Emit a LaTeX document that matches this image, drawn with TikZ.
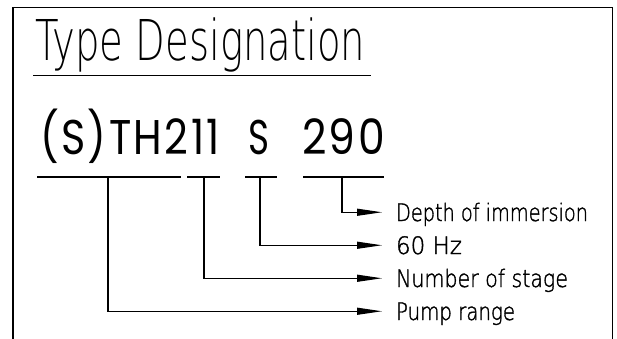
\documentclass[tikz,border=0pt]{standalone}
\usepackage{graphicx}
\usepackage{fontspec}
\usetikzlibrary{arrows.meta}
\IfFontExistsTF{DejaVu Sans ExtraLight}{\newfontfamily\labfont[FakeBold=1.6]{DejaVu Sans ExtraLight}\newfontfamily\titfont{DejaVu Sans ExtraLight}}{\newfontfamily\labfont{Fira Sans}\newfontfamily\titfont{Fira Sans}}
\newfontfamily\codefont[LetterSpace=6]{Poppins}
\newcommand\fitto[4]{\resizebox{#1}{#2}{#3\smash{#4}\rule{0pt}{\fontcharht\font`H}}}
\tikzset{
  txt/.style={inner sep=0pt, outer sep=0pt, anchor=south west},
  frame/.style={line width=1.5pt, line cap=rect},
  conn/.style={line width=1.1pt, -{Triangle[length=25pt,width=7pt]}},
  uline/.style={line width=1.1pt},
}
\begin{document}
\begin{tikzpicture}[x=1pt,y=-1pt]
\clip (0,0) rectangle (617,339);
\fill[white] (0,0) rectangle (617,339);
% frame
\draw[frame] (13,350) -- (13,7.5) -- (612.5,7.5) -- (612.5,350);
% title
\node[txt] (title) at (35,61) {\fitto{330pt}{41pt}{\titfont}{Type Designation}};
\coordinate (tl) at (33,75);
\coordinate (tr) at (371,75);
\draw[line width=0.9pt] (tl) -- (tr);
% code
\node[txt] (code1) at (40,154.3) {\fitto{180pt}{34pt}{\codefont}{(S)TH211}};
\node[txt] (code2) at (248,154.3) {\fitto{21pt}{34pt}{\codefont}{S}};
\node[txt] (code3) at (302,154.3) {\fitto{83pt}{34pt}{\codefont}{290}};
% underline segments
\coordinate (a1) at (37,177);  \coordinate (b1) at (181,177);
\coordinate (a2) at (187,177); \coordinate (b2) at (220,177);
\coordinate (a3) at (245,177); \coordinate (b3) at (277,177);
\coordinate (a4) at (303,177); \coordinate (b4) at (384,177);
\draw[uline] (a1) -- (b1);
\draw[uline] (a2) -- (b2);
\draw[uline] (a3) -- (b3);
\draw[uline] (a4) -- (b4);
% labels
\node[txt] (depth) at (396,221) {\fitto{192pt}{17.5pt}{\labfont}{Depth of immersion}};
\node[txt] (hz)    at (396,254) {\fitto{66pt}{17.5pt}{\labfont}{60 Hz}};
\node[txt] (num)   at (396,287) {\fitto{172pt}{17.5pt}{\labfont}{Number of stage}};
\node[txt] (pump)  at (396,320) {\fitto{119pt}{17.5pt}{\labfont}{Pump range}};
% connectors
\coordinate (t1) at (108,177);
\coordinate (t2) at (204,177);
\coordinate (t3) at (260,177);
\coordinate (t4) at (342,177);
\draw[conn] (t1) |- ([xshift=-14pt]pump.west);
\draw[conn] (t2) |- ([xshift=-14pt]num.west);
\draw[conn] (t3) |- ([xshift=-14pt]hz.west);
\draw[conn] (t4) |- ([xshift=-14pt]depth.west);
\end{tikzpicture}
\end{document}
